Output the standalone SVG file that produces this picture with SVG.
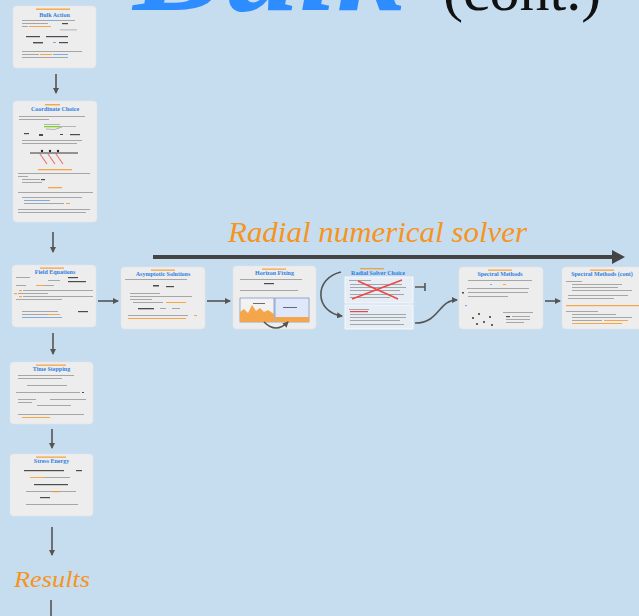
<svg xmlns="http://www.w3.org/2000/svg" width="639" height="616" viewBox="0 0 639 616">
<style>
.bg{fill:#c6dcef}
.card{fill:#ededed;stroke:#e2e6ea;stroke-width:0.6}
.ttl{font-family:"Liberation Serif",serif;font-weight:bold;fill:#2f7fe0;font-size:6px;text-anchor:middle}
.ln{fill:#6b6b6b;opacity:.55}
.dk{fill:#222;opacity:.8}
.ol{fill:#f7941d;opacity:.8}
.bl{fill:#4a90e2;opacity:.7}
.arr{stroke:#555;stroke-width:1.6;fill:none}
.lbl{font-family:"Liberation Serif",serif;font-style:italic;fill:#f7941d}
</style>
<defs>
<marker id="ah" markerWidth="6" markerHeight="6" refX="5" refY="3" orient="auto" markerUnits="userSpaceOnUse">
<path d="M0,0 L6,3 L0,6 Z" fill="#555"/>
</marker>
<marker id="ahb" markerWidth="14" markerHeight="14" refX="2" refY="7" orient="auto" markerUnits="userSpaceOnUse">
<path d="M0,0 L13,7 L0,14 Z" fill="#444"/>
</marker>
</defs>
<rect class="bg" x="0" y="0" width="639" height="616"/>

<g id="title">
<text x="133" y="10" font-family="Liberation Serif,serif" font-style="italic" font-weight="bold" font-size="136" fill="#2d8cff">Bulk</text>
<text x="443" y="10" font-family="Liberation Serif,serif" font-size="60" fill="#111">(cont.)</text>
</g>

<g id="bulk-action">
<rect class="card" x="13" y="6" width="83" height="62" rx="4"/>
<rect class="ol" x="36" y="8.5" width="34" height="1.4"/>
<text class="ttl" x="54.5" y="17">Bulk Action</text>
<rect class="ln" x="22" y="20" width="27" height="1"/><rect class="bl" x="49" y="20" width="10" height="1"/><rect class="ln" x="59" y="20" width="16" height="1"/>
<rect class="ln" x="22" y="23" width="26" height="1"/><rect class="dk" x="62" y="23" width="6" height="1.2"/>
<rect class="ln" x="22" y="26" width="6" height="1"/><rect class="ol" x="29" y="26" width="22" height="1"/>
<rect class="ln" x="60" y="29.5" width="17" height="0.8"/>
<rect class="dk" x="26" y="36" width="14" height="1.2"/><rect class="dk" x="46" y="36" width="22" height="1.2"/>
<rect class="dk" x="33" y="42" width="10" height="1.4"/><rect class="bl" x="53" y="42" width="3" height="1"/><rect class="dk" x="59" y="42" width="9" height="1.2"/>
<rect class="ln" x="22" y="51" width="60" height="1"/>
<rect class="ln" x="22" y="54" width="17" height="1"/><rect class="ol" x="40" y="54" width="12" height="1"/><rect class="bl" x="53" y="54" width="15" height="1"/>
<rect class="ln" x="22" y="57" width="46" height="1"/>
</g>

<g id="coordinate-choice">
<rect class="card" x="13" y="101" width="84" height="121" rx="4"/>
<rect class="ol" x="45" y="104" width="15" height="1.4"/>
<text class="ttl" x="55" y="111">Coordinate Choice</text>
<rect class="ln" x="19" y="116" width="66" height="1"/>
<rect class="ln" x="19" y="119" width="30" height="1"/>
<rect class="ln" x="44" y="124" width="16" height="0.8"/><rect fill="#7ed321" x="44" y="126" width="16" height="1.3"/><rect class="ln" x="60" y="126" width="16" height="0.8"/>
<path d="M46,129 Q55,131 62,127" stroke="#888" stroke-width="0.6" fill="none"/>
<rect class="dk" x="24" y="133" width="5" height="1.2"/><rect class="dk" x="39" y="134" width="4" height="2"/><rect class="dk" x="60" y="134" width="3" height="1"/><rect class="dk" x="70" y="134" width="10" height="1.2"/>
<rect class="ln" x="22" y="140" width="60" height="1"/>
<rect class="ln" x="22" y="143" width="55" height="1"/>
<line x1="30" y1="153" x2="78" y2="153" stroke="#222" stroke-width="0.9"/>
<g stroke="#f06060" stroke-width="1.2" opacity=".85"><line x1="40" y1="154" x2="47" y2="164"/><line x1="48" y1="154" x2="55" y2="164"/><line x1="56" y1="154" x2="63" y2="164"/></g>
<g fill="#222"><circle cx="42" cy="151" r="1.2"/><circle cx="50" cy="151" r="1.2"/><circle cx="58" cy="151" r="1.2"/></g>
<rect class="ol" x="38" y="169" width="34" height="1.3"/>
<rect class="ln" x="18" y="173" width="72" height="1"/>
<rect class="ln" x="18" y="176" width="10" height="1"/>
<rect class="ln" x="22" y="179" width="18" height="1"/><rect class="dk" x="41" y="179" width="4" height="1.2"/>
<rect class="ln" x="22" y="182" width="20" height="1"/>
<rect class="ol" x="48" y="187" width="14" height="1.3"/>
<rect class="ln" x="18" y="192" width="75" height="1"/>
<rect class="ln" x="22" y="197" width="60" height="1"/>
<rect class="bl" x="24" y="200" width="26" height="1"/>
<rect class="ln" x="24" y="203" width="40" height="1"/><rect class="ol" x="66" y="203" width="4" height="1"/>
<rect class="ln" x="18" y="209" width="72" height="1"/>
<rect class="ln" x="18" y="212" width="68" height="1"/>
</g>

<g id="field-equations">
<rect class="card" x="12" y="265" width="84" height="62" rx="4"/>
<rect class="ol" x="40" y="267.5" width="24" height="1.3"/>
<text class="ttl" x="55" y="274">Field Equations</text>
<rect class="ln" x="16" y="277" width="14" height="1"/><rect class="dk" x="68" y="277" width="10" height="1.2"/>
<rect class="ln" x="48" y="280" width="12" height="1"/><rect class="dk" x="68" y="281" width="18" height="1.2"/>
<rect class="ln" x="16" y="285" width="10" height="1"/><rect class="ol" x="36" y="285" width="8" height="1"/><rect class="ln" x="44" y="285" width="10" height="1"/>
<rect class="ol" x="19" y="290" width="3" height="1.2"/><rect class="ln" x="23" y="290" width="70" height="1"/>
<rect class="ol" x="14" y="293" width="3" height="1.2"/><rect class="ln" x="18" y="293" width="30" height="1"/>
<rect class="ol" x="19" y="296" width="3" height="1.2"/><rect class="ln" x="23" y="296" width="70" height="1"/>
<rect class="ln" x="16" y="299" width="46" height="1"/>
<rect class="ln" x="22" y="311" width="36" height="1"/><rect class="dk" x="78" y="311" width="10" height="1.2"/>
<rect class="ln" x="22" y="314" width="26" height="1"/><rect class="ol" x="48" y="314" width="12" height="1"/>
<rect class="bl" x="22" y="317" width="40" height="1"/>
</g>

<g id="asymptotic-solutions">
<rect class="card" x="121" y="267" width="84" height="62" rx="4"/>
<rect class="ol" x="151" y="269.5" width="24" height="1.3"/>
<text class="ttl" x="163" y="276">Asymptotic Solutions</text>
<rect class="ln" x="125" y="279" width="62" height="1"/>
<rect class="dk" x="153" y="285" width="6" height="1.5"/><rect class="dk" x="166" y="286" width="8" height="1.2"/>
<rect class="ln" x="130" y="293" width="30" height="1"/>
<rect class="ln" x="130" y="296" width="62" height="1"/>
<rect class="ln" x="130" y="299" width="22" height="1"/>
<rect class="ln" x="133" y="302" width="30" height="1"/><rect class="ol" x="166" y="302" width="20" height="1"/>
<rect class="dk" x="138" y="308" width="16" height="1.3"/><rect class="ln" x="160" y="308" width="6" height="1"/><rect class="ln" x="172" y="308" width="8" height="1"/>
<rect class="ln" x="128" y="315" width="60" height="1"/><rect class="ol" x="194" y="315" width="3" height="1"/>
<rect class="ol" x="128" y="318" width="58" height="1"/>
</g>

<g id="horizon-fixing">
<rect class="card" x="233" y="266" width="83" height="63" rx="4"/>
<rect class="ol" x="262" y="268.5" width="24" height="1.3"/>
<text class="ttl" x="274.5" y="275">Horizon Fixing</text>
<rect class="ln" x="240" y="279" width="62" height="1"/>
<rect class="dk" x="264" y="283" width="10" height="1.2"/>
<rect class="ln" x="240" y="290" width="58" height="1"/>
<rect fill="#f2f2f2" stroke="#5a7ab0" stroke-width="0.6" x="240" y="298" width="34" height="24"/>
<path d="M240,322 L240,312 L244,309 L248,313 L252,305 L256,311 L260,308 L264,312 L268,310 L274,314 L274,322 Z" fill="#f6a64a"/>
<rect class="dk" x="253" y="303" width="12" height="0.8"/>
<rect fill="#dfe8fb" stroke="#5a7ab0" stroke-width="0.6" x="275" y="298" width="34" height="24"/>
<rect fill="#f6a64a" x="275" y="317" width="34" height="5"/>
<rect class="dk" x="283" y="307" width="14" height="0.8"/>
<path d="M264,322 Q276,334 288,322" class="arr" stroke-width="0.8" marker-end="url(#ah)"/>
</g>

<g id="radial-solver-choice">
<rect class="ol" x="360" y="268" width="24" height="1.3"/>
<text class="ttl" x="378" y="275">Radial Solver Choice</text>
<rect fill="#e6edf4" stroke="#ffffff" stroke-width="0.8" x="345" y="277" width="68" height="26"/>
<rect class="ln" x="349" y="280" width="22" height="1"/>
<rect class="ln" x="350" y="284" width="52" height="1"/>
<rect class="ln" x="350" y="287" width="56" height="1"/>
<rect class="ln" x="350" y="290" width="50" height="1"/>
<rect class="ln" x="350" y="294" width="54" height="1"/>
<rect class="ln" x="350" y="297" width="40" height="1"/>
<g stroke="#f04545" stroke-width="1.4"><line x1="352" y1="299" x2="402" y2="280"/><line x1="358" y1="281" x2="398" y2="299"/></g>
<rect fill="#e6edf4" stroke="#ffffff" stroke-width="0.8" x="345" y="305" width="68" height="24"/>
<rect class="ln" x="349" y="309" width="20" height="1"/>
<rect fill="#f04545" x="350" y="311" width="18" height="1.2"/>
<rect class="ln" x="350" y="314" width="56" height="1"/>
<rect class="ln" x="350" y="317" width="56" height="1"/>
<rect class="ln" x="350" y="320" width="50" height="1"/>
<rect class="ln" x="350" y="324" width="54" height="1"/>
</g>

<g id="spectral-methods">
<rect class="card" x="459" y="267" width="84" height="62" rx="4"/>
<rect class="ol" x="488" y="269.5" width="24" height="1.3"/>
<text class="ttl" x="500" y="276">Spectral Methods</text>
<rect class="ln" x="468" y="280" width="64" height="1"/>
<rect class="bl" x="490" y="284" width="2" height="1"/><rect class="ol" x="503" y="284" width="3" height="1"/>
<rect class="ln" x="467" y="288" width="62" height="1"/>
<rect class="dk" x="462" y="292" width="2" height="1.5"/><rect class="ln" x="468" y="292" width="60" height="1"/>
<rect class="ln" x="468" y="296" width="40" height="1"/>
<rect class="bl" x="465" y="305" width="2" height="1.2"/>
<g fill="#222"><circle cx="473" cy="318" r="0.9"/><circle cx="479" cy="314" r="0.9"/><circle cx="484" cy="322" r="0.9"/><circle cx="490" cy="317" r="0.9"/><circle cx="492" cy="325" r="0.9"/><circle cx="477" cy="324" r="0.9"/></g>
<rect class="ln" x="503" y="312" width="30" height="1"/>
<rect class="dk" x="506" y="316" width="4" height="1.2"/><rect class="ln" x="512" y="316" width="18" height="1"/>
<rect class="ln" x="506" y="319" width="24" height="1"/>
<rect class="ln" x="506" y="322" width="18" height="1"/>
</g>

<g id="spectral-methods-cont">
<rect class="card" x="562" y="267" width="84" height="62" rx="4"/>
<rect class="ol" x="590" y="269.5" width="24" height="1.3"/>
<text class="ttl" x="602" y="276">Spectral Methods (cont)</text>
<rect class="ln" x="566" y="281" width="16" height="1"/>
<rect class="ln" x="572" y="284" width="50" height="1"/>
<rect class="ln" x="572" y="287" width="46" height="1"/>
<rect class="ln" x="572" y="290" width="60" height="1"/>
<rect class="ln" x="568" y="295" width="60" height="1"/>
<rect class="ln" x="568" y="298" width="46" height="1"/>
<rect class="ol" x="566" y="305" width="73" height="1.2"/>
<rect class="ln" x="566" y="311" width="32" height="1"/>
<rect class="ln" x="572" y="314" width="44" height="1"/>
<rect class="ln" x="572" y="317" width="60" height="1"/>
<rect class="ln" x="572" y="320" width="30" height="1"/><rect class="ol" x="604" y="320" width="24" height="1"/>
<rect class="ol" x="572" y="323" width="50" height="1"/>
</g>

<g id="time-stepping">
<rect class="card" x="10" y="362" width="83" height="62" rx="4"/>
<rect class="ol" x="36" y="364.5" width="30" height="1.3"/>
<text class="ttl" x="51.5" y="371">Time Stepping</text>
<rect class="ln" x="18" y="375" width="56" height="1"/>
<rect class="ln" x="18" y="378" width="44" height="1"/>
<rect class="ln" x="27" y="385" width="40" height="1"/>
<rect class="ln" x="16" y="392" width="64" height="1"/><rect class="dk" x="82" y="392" width="2" height="1"/>
<rect class="ln" x="18" y="399" width="18" height="1"/><rect class="ln" x="50" y="399" width="36" height="1"/>
<rect class="ln" x="18" y="402" width="14" height="1"/>
<rect class="ln" x="37" y="405" width="34" height="1"/>
<rect class="ln" x="18" y="414" width="66" height="1"/>
<rect class="ol" x="22" y="417" width="28" height="1"/>
</g>

<g id="stress-energy">
<rect class="card" x="10" y="454" width="83" height="62" rx="4"/>
<rect class="ol" x="36" y="456.5" width="30" height="1.3"/>
<text class="ttl" x="51.5" y="463">Stress Energy</text>
<rect class="dk" x="24" y="470" width="40" height="1.2"/><rect class="dk" x="76" y="470" width="6" height="1.2"/>
<rect class="ol" x="30" y="477" width="14" height="1"/><rect class="ln" x="44" y="477" width="26" height="1"/>
<rect class="dk" x="34" y="484" width="34" height="1.2"/>
<rect class="ln" x="26" y="491" width="50" height="1"/><rect class="ol" x="52" y="491" width="8" height="1.2"/>
<rect class="dk" x="40" y="497" width="10" height="1.2"/>
<rect class="ln" x="26" y="504" width="52" height="1"/>
</g>

<g id="radial-label">
<text class="lbl" x="228" y="242" font-size="29" textLength="299" lengthAdjust="spacingAndGlyphs">Radial numerical solver</text>
</g>

<g id="results">
<text class="lbl" x="14" y="587" font-size="23" textLength="76" lengthAdjust="spacingAndGlyphs">Results</text>
</g>

<g id="connectors">
<line class="arr" x1="56" y1="74" x2="56" y2="93" marker-end="url(#ah)"/>
<line class="arr" x1="53" y1="232" x2="53" y2="252" marker-end="url(#ah)"/>
<line class="arr" x1="53" y1="333" x2="53" y2="354" marker-end="url(#ah)"/>
<line class="arr" x1="52" y1="429" x2="52" y2="448" marker-end="url(#ah)"/>
<line class="arr" x1="52" y1="527" x2="52" y2="555" marker-end="url(#ah)"/>
<line class="arr" x1="51" y1="600" x2="51" y2="616"/>
<line class="arr" x1="98" y1="301" x2="118" y2="301" marker-end="url(#ah)"/>
<line class="arr" x1="207" y1="301" x2="230" y2="301" marker-end="url(#ah)"/>
<path class="arr" d="M341,272 C314,278 314,312 342,316" marker-end="url(#ah)"/>
<path class="arr" d="M415,287 L425,287 M425,283 L425,291"/>
<path class="arr" d="M415,323 C440,323 438,300 457,300" marker-end="url(#ah)"/>
<line class="arr" x1="545" y1="301" x2="560" y2="301" marker-end="url(#ah)"/>
<line x1="153" y1="257" x2="614" y2="257" stroke="#444" stroke-width="4" marker-end="url(#ahb)"/>
</g>
</svg>
